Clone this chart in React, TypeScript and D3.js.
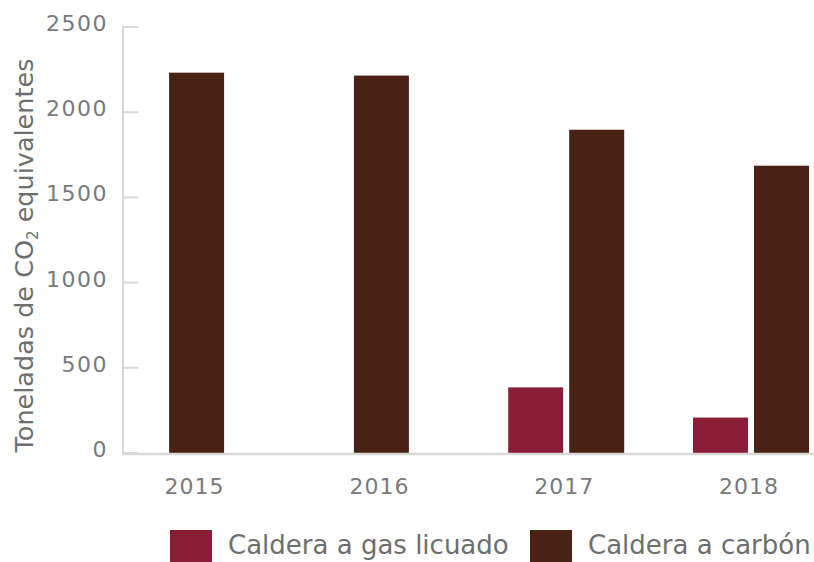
import React from "react";
import * as d3 from "d3";

const years = ["2015", "2016", "2017", "2018"];
const seriesNames = ["Caldera a gas licuado", "Caldera a carbón"];
const gasValues: (number | null)[] = [null, null, 385, 208];
const carbonValues: (number | null)[] = [2232, 2215, 1897, 1686];
const yTicks = [0, 500, 1000, 1500, 2000, 2500];
const colors = ["#8B1D37", "#4A2213"];

const W = 814;
const H = 562;
const FONT = "'DejaVu Sans', sans-serif";

export default function App() {
  const y = d3.scaleLinear().domain([0, 2500]).range([453, 27]);
  const x = d3.scaleBand<string>().domain(years).range([104.2, 843.4]).padding(0);
  const barW = 55;
  const gap = 6;
  const series = [gasValues, carbonValues];

  const bars: React.ReactNode[] = [];
  years.forEach((yr, i) => {
    const present = series
      .map((s, si) => ({ v: s[i], si }))
      .filter((d) => d.v !== null && d.v !== undefined) as { v: number; si: number }[];
    const n = present.length;
    const total = n * barW + (n - 1) * gap;
    const cx = (x(yr) as number) + x.bandwidth() / 2;
    const start = cx - total / 2;
    present.forEach((d, k) => {
      const bx = start + k * (barW + gap);
      bars.push(
        <rect
          key={yr + "-" + d.si}
          x={bx}
          y={y(d.v)}
          width={barW}
          height={y(0) - y(d.v)}
          fill={colors[d.si]}
        />
      );
    });
  });

  return (
    <svg
      width={W}
      height={H}
      style={{ position: "absolute", left: 0, top: 0, background: "#fff" }}
    >
      {/* y axis */}
      <line x1={123} x2={123} y1={y(2500) - 1} y2={y(0)} stroke="#d9d9d9" strokeWidth={2} />
      {yTicks.map((t) => (
        <g key={t}>
          <line x1={123} x2={138} y1={y(t)} y2={y(t)} stroke="#d9d9d9" strokeWidth={2} />
          <text
            x={108}
            y={y(t) + 4}
            textAnchor="end"
            fontFamily={FONT}
            fontSize={22}
            letterSpacing={1.5}
            fill="#7a7a7a"
          >
            {t}
          </text>
        </g>
      ))}
      {bars}
      {/* x axis */}
      <line x1={122} x2={W} y1={y(0) + 1} y2={y(0) + 1} stroke="#d9d9d9" strokeWidth={2.5} />
      {years.map((yr) => (
        <text
          key={yr}
          x={(x(yr) as number) + x.bandwidth() / 2 - 2}
          y={494}
          textAnchor="middle"
          fontFamily={FONT}
          fontSize={22}
          letterSpacing={1}
          fill="#7a7a7a"
        >
          {yr}
        </text>
      ))}
      {/* y title */}
      <text
        transform="translate(33,255.5) rotate(-90)"
        textAnchor="middle"
        fontFamily={FONT}
        fontSize={25.5}
        fill="#6e6e6e"
      >
        <tspan>Toneladas de CO</tspan>
        <tspan fontSize={15} dy={5}>2</tspan>
        <tspan dy={-5}> equivalentes</tspan>
      </text>
      {/* legend */}
      {seriesNames.map((name, i) => {
        const lx = i === 0 ? 170 : 530;
        return (
          <g key={name}>
            <rect x={lx} y={530} width={42} height={42} fill={colors[i]} />
            <text
              x={lx + 58}
              y={554}
              fontFamily={FONT}
              fontSize={26}
              fill="#6e6e6e"
            >
              {name}
            </text>
          </g>
        );
      })}
    </svg>
  );
}
